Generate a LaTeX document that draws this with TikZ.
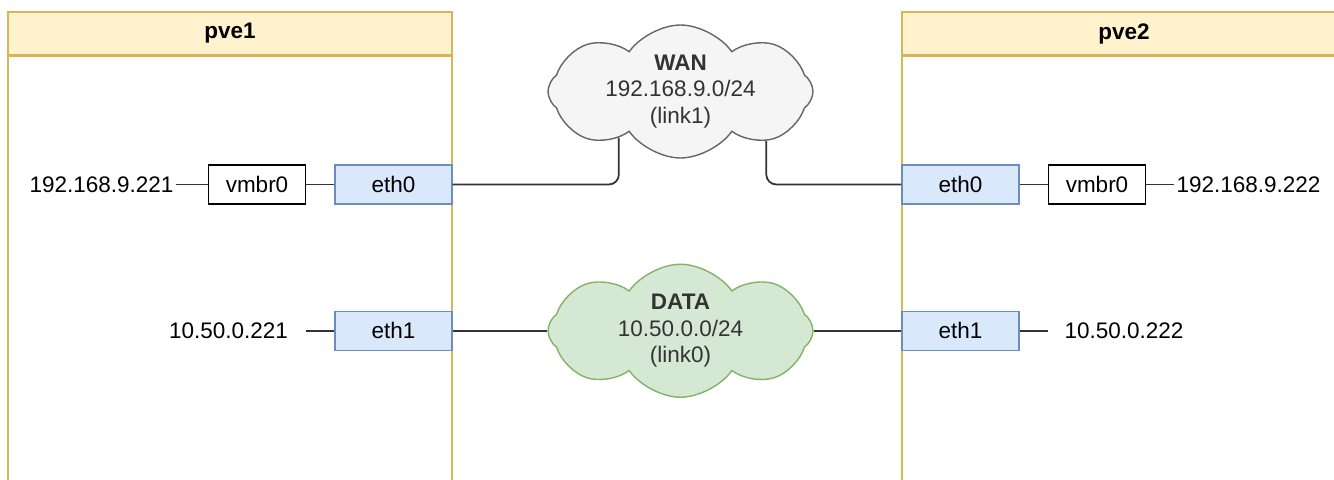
\documentclass[tikz,border=0pt]{standalone}
\usepackage{fontspec}
\setmainfont{Liberation Sans}
\usepackage{xcolor}
\usepackage{tikz}
\usetikzlibrary{shapes,positioning,calc}

\definecolor{hdrfill}{HTML}{FFF2CC}
\definecolor{hdrline}{HTML}{D6B656}
\definecolor{ethfill}{HTML}{DAE8FC}
\definecolor{ethline}{HTML}{6C8EBF}
\definecolor{wanfill}{HTML}{F5F5F5}
\definecolor{wanline}{HTML}{666666}
\definecolor{datafill}{HTML}{D5E8D4}
\definecolor{dataline}{HTML}{82B366}

\begin{document}
\begin{tikzpicture}[font=\fontsize{12.8}{15}\selectfont,
    header/.style={rectangle, draw=hdrline, fill=hdrfill, line width=0.8pt, minimum width=8.88cm, minimum height=0.86cm, font=\fontsize{12.8}{15}\selectfont\bfseries},
    body/.style={rectangle, draw=hdrline, line width=0.8pt, minimum width=8.88cm, minimum height=9cm},
    iface/.style={rectangle, draw=ethline, fill=ethfill, line width=0.7pt, minimum width=2.34cm, minimum height=0.78cm},
    bridge/.style={rectangle, draw, line width=1pt, minimum width=1.94cm, minimum height=0.78cm},
    ipaddr/.style={inner sep=1pt},
    net/.style={cloud, cloud puffs=8, cloud puff arc=110, cloud ignores aspect, minimum width=5.3cm, minimum height=2.66cm, inner sep=0pt, line width=0.8pt},
    nettext/.style={align=center, text=black!80},
    link/.style={draw=black!80, line width=1pt}]

    \clip (0,0) rectangle (26.68,-9.58);

    % Left side - pve1
    \node[header] (pve1) at (4.6,-0.67) {pve1};
    \node[body, below=0pt of pve1] (pve1body) {};
    \node[iface] (eth0a) at (7.87,-3.69) {eth0};
    \node[bridge, left=0.56cm of eth0a] (vmbr0a) {vmbr0};
    \node[ipaddr, left=0.64cm of vmbr0a] (ip0a) {192.168.9.221};
    \node[iface, below=2.12cm of eth0a] (eth1a) {eth1};
    \node[ipaddr, minimum width=3.1cm, left=0.56cm of eth1a] (ip1a) {10.50.0.221};

    % Right side - pve2
    \node[header] (pve2) at (22.48,-0.67) {pve2};
    \node[body, below=0pt of pve2] (pve2body) {};
    \node[iface] (eth0b) at (19.21,-3.69) {eth0};
    \node[bridge, right=0.56cm of eth0b] (vmbr0b) {vmbr0};
    \node[ipaddr, right=0.56cm of vmbr0b] (ip0b) {192.168.9.222};
    \node[iface, below=2.12cm of eth0b] (eth1b) {eth1};
    \node[ipaddr, minimum width=3.04cm, right=0.56cm of eth1b] (ip1b) {10.50.0.222};

    % Networks
    \node[net, draw=wanline, fill=wanfill] (wan) at (13.61,-1.83) {};
    \node[nettext] (wantext) at (wan) {\textbf{WAN}\\192.168.9.0/24\\(link1)};
    \node[net, draw=dataline, fill=datafill] (data) at (wan |- eth1a) {};
    \node[nettext] (datatext) at (data) {\textbf{DATA}\\10.50.0.0/24\\(link0)};

    % Links
    \draw[link] (ip0a) -- (vmbr0a);
    \draw[link] (vmbr0a) -- (eth0a);
    \draw[link, rounded corners=0.2cm] (eth0a) -| (wan.217);
    \draw[link, rounded corners=0.2cm] (eth0b) -| (wan.330);
    \draw[link] (vmbr0b) -- (eth0b);
    \draw[link] (ip0b) -- (vmbr0b);
    \draw[link] (ip1a) -- (eth1a);
    \draw[link] (eth1a) -- (data);
    \draw[link] (data) -- (eth1b);
    \draw[link] (eth1b) -- (ip1b);

\end{tikzpicture}
\end{document}
